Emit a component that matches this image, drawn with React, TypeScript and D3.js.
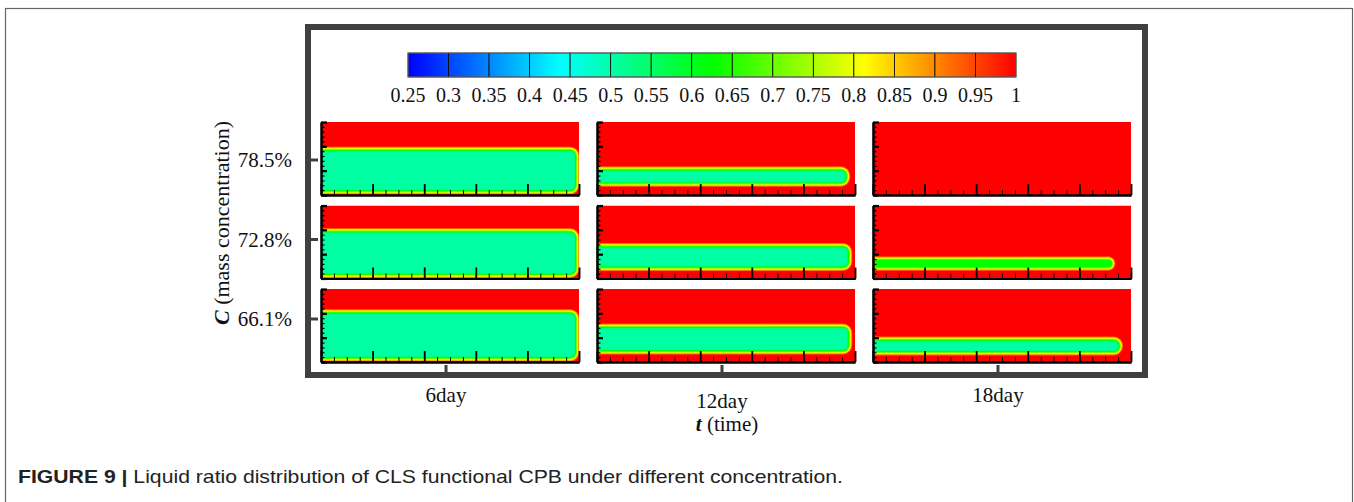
import React, { useRef, useEffect } from 'react';
import * as d3 from 'd3';

const days = ['6day', '12day', '18day'];
const concentrations = ['78.5%', '72.8%', '66.1%'];

const legendTicks = [0.25, 0.3, 0.35, 0.4, 0.45, 0.5, 0.55, 0.6, 0.65, 0.7, 0.75, 0.8, 0.85, 0.9, 0.95, 1];
const legendStops = [0.25, 0.4375, 0.625, 0.8125, 1];
const legendColors = ['#0000ff', '#00ffff', '#00ff00', '#ffff00', '#ff0000'];

// liquid zone in each panel (rows = concentration, cols = day), x in 0..5, y in 0..3
// null = fully saturated panel
const zoneTop = [
  [1.89, 1.08, null],
  [1.97, 1.36, 0.81],
  [2.07, 1.48, 0.95],
];
const zoneBottom = [
  [0.12, 0.44, null],
  [0.12, 0.41, 0.42],
  [0.12, 0.41, 0.37],
];
const zoneRight = [
  [4.96, 4.86, null],
  [4.96, 4.9, 4.65],
  [4.96, 4.9, 4.8],
];
const zoneCore = [
  [0.5, 0.5, null],
  [0.5, 0.5, 0.62],
  [0.5, 0.5, 0.5],
];

const serif = '"Liberation Serif", "Times New Roman", serif';
const sans = '"Liberation Sans", Arial, sans-serif';

const App: React.FC = () => {
  const svgRef = useRef<SVGSVGElement | null>(null);

  useEffect(() => {
    if (!svgRef.current) return;
    const svg = d3.select(svgRef.current);
    svg.selectAll('*').remove();

    const color = d3.scaleLinear<string>()
      .domain(legendStops)
      .range(legendColors)
      .interpolate(d3.interpolateRgb)
      .clamp(true);

    // caption box
    svg.append('rect')
      .attr('x', 5.5).attr('y', 8.5)
      .attr('width', 1347).attr('height', 530)
      .attr('fill', 'none')
      .attr('stroke', '#666')
      .attr('stroke-width', 1.2);

    const defs = svg.append('defs');

    // Legend
    const lx = d3.scaleLinear().domain([0.25, 1]).range([408, 1016]);
    const segs = d3.pairs(legendTicks);
    segs.forEach(([a, b], i) => {
      const grad = defs.append('linearGradient').attr('id', `seg${i}`);
      d3.range(0, 1.0001, 0.125).forEach(t => {
        grad.append('stop').attr('offset', t).attr('stop-color', color(a + (b - a) * t));
      });
    });

    const legend = svg.append('g');
    legend.selectAll('rect.seg')
      .data(segs)
      .join('rect')
      .attr('class', 'seg')
      .attr('x', d => lx(d[0]))
      .attr('y', 53)
      .attr('width', d => lx(d[1]) - lx(d[0]))
      .attr('height', 24)
      .attr('fill', (_, i) => `url(#seg${i})`)
      .attr('stroke', '#000')
      .attr('stroke-width', 0.8);
    legend.append('rect')
      .attr('x', lx(0.25)).attr('y', 53)
      .attr('width', lx(1) - lx(0.25)).attr('height', 24)
      .attr('fill', 'none').attr('stroke', '#777').attr('stroke-width', 1);
    legend.selectAll('text')
      .data(legendTicks)
      .join('text')
      .attr('x', d => lx(d))
      .attr('y', 102)
      .attr('text-anchor', 'middle')
      .style('font-family', serif)
      .style('font-size', '20px')
      .attr('fill', '#111')
      .text(d => d3.format('~g')(d));

    // panel grid
    const col = d3.scaleBand().domain(days).range([321, 1131]).paddingInner(0.065);
    const row = d3.scaleBand().domain(concentrations).range([122, 362]).paddingInner(0.126);
    const bw = col.bandwidth();
    const bh = row.bandwidth();
    const fx = d3.scaleLinear().domain([0, 5]).range([0, bw]);
    const fy = d3.scaleLinear().domain([0, 3]).range([bh, 0]);
    const half = 2.8; // half width of the contour transition, px

    concentrations.forEach((c, ri) => {
      days.forEach((d, ci) => {
        const g = svg.append('g').attr('transform', `translate(${col(d)},${row(c)})`);
        const clipId = `clip-${ri}-${ci}`;
        defs.append('clipPath').attr('id', clipId)
          .append('rect').attr('width', bw).attr('height', bh);

        const field = g.append('g').attr('clip-path', `url(#${clipId})`);
        field.append('rect').attr('width', bw).attr('height', bh).attr('fill', color(1));

        const top = zoneTop[ri][ci];
        if (top != null) {
          const x1 = fx(zoneRight[ri][ci] as number);
          const y0 = fy(top);
          const y1 = fy(zoneBottom[ri][ci] as number);
          const core = zoneCore[ri][ci] as number;
          const r0 = Math.min(7, (y1 - y0) / 2);
          const off = (v: number) => ((0.75 - v) / 0.25) * half;
          const levels = d3.range(0.985, core - 1e-6, -0.015)
            .filter(v => (y1 - off(v)) - (y0 + off(v)) > 0);
          field.selectAll('rect.lvl')
            .data(levels)
            .join('rect')
            .attr('class', 'lvl')
            .attr('x', -20)
            .attr('y', v => y0 + off(v))
            .attr('width', v => x1 - off(v) + 20)
            .attr('height', v => (y1 - off(v)) - (y0 + off(v)))
            .attr('rx', v => Math.max(0, r0 - off(v)))
            .attr('fill', v => color(v));
        }

        // axes
        const styleAxis = (sel: any, w: number) => {
          sel.selectAll('line').attr('stroke', '#000').attr('stroke-width', w);
          sel.select('.domain').attr('stroke', '#000').attr('stroke-width', 2);
        };
        g.append('g')
          .call(d3.axisLeft(fy).tickValues(d3.range(0, 3.001, 0.2)).tickSize(-3.5).tickSizeOuter(0).tickFormat(() => ''))
          .call((s: any) => styleAxis(s, 1.2));
        g.append('g')
          .call(d3.axisLeft(fy).tickValues([0, 1, 2, 3]).tickSize(-6).tickSizeOuter(0).tickFormat(() => ''))
          .call((s: any) => styleAxis(s, 2.2));
        g.append('g')
          .attr('transform', `translate(0,${bh})`)
          .call(d3.axisBottom(fx).tickValues(d3.range(0, 5.001, 0.25)).tickSize(-5).tickSizeOuter(0).tickFormat(() => ''))
          .call((s: any) => styleAxis(s, 1));
        g.append('g')
          .attr('transform', `translate(0,${bh})`)
          .call(d3.axisBottom(fx).tickValues([0, 1, 2, 3, 4, 5]).tickSize(-11).tickSizeOuter(0).tickFormat(() => ''))
          .call((s: any) => styleAxis(s, 1.8));
      });
    });

    // outer frame
    const frame = svg.append('g');
    frame.append('rect')
      .attr('x', 308).attr('y', 27)
      .attr('width', 837).attr('height', 348)
      .attr('fill', 'none')
      .attr('stroke', '#404040')
      .attr('stroke-width', 6);

    const ty = d3.scalePoint().domain(concentrations).range([160, 319]);
    frame.selectAll('line.ytick')
      .data(concentrations)
      .join('line')
      .attr('class', 'ytick')
      .attr('x1', 311).attr('x2', 318)
      .attr('y1', d => ty(d)!).attr('y2', d => ty(d)!)
      .attr('stroke', '#404040').attr('stroke-width', 3);
    frame.selectAll('line.xtick')
      .data(days)
      .join('line')
      .attr('class', 'xtick')
      .attr('x1', d => col(d)! + bw / 2 - 4).attr('x2', d => col(d)! + bw / 2 - 4)
      .attr('y1', 372).attr('y2', 365)
      .attr('stroke', '#404040').attr('stroke-width', 3);

    svg.selectAll('text.rowlab')
      .data(concentrations)
      .join('text')
      .attr('class', 'rowlab')
      .attr('x', 292)
      .attr('y', d => ty(d)! + 7)
      .attr('text-anchor', 'end')
      .style('font-family', serif)
      .style('font-size', '21px')
      .attr('fill', '#111')
      .text(d => d);

    svg.selectAll('text.collab')
      .data(days)
      .join('text')
      .attr('class', 'collab')
      .attr('x', d => col(d)! + bw / 2 - 4)
      .attr('y', (_, i) => (i === 1 ? 408 : 402))
      .attr('text-anchor', 'middle')
      .style('font-family', serif)
      .style('font-size', '21px')
      .attr('fill', '#111')
      .text(d => d);

    // axis titles
    const xt = svg.append('text')
      .attr('x', 727).attr('y', 431)
      .attr('text-anchor', 'middle')
      .style('font-family', serif)
      .style('font-size', '21px')
      .attr('fill', '#111');
    xt.append('tspan').style('font-weight', 'bold').style('font-style', 'italic').text('t');
    xt.append('tspan').text(' (time)');

    const yt = svg.append('text')
      .attr('transform', 'translate(229,223) rotate(-90)')
      .attr('text-anchor', 'middle')
      .style('font-family', serif)
      .style('font-size', '22px')
      .attr('fill', '#111');
    yt.append('tspan').style('font-weight', 'bold').style('font-style', 'italic').text('C');
    yt.append('tspan').text(' (mass concentration)');

    // caption
    const cap = svg.append('text')
      .attr('x', 18).attr('y', 483)
      .attr('textLength', 825)
      .attr('lengthAdjust', 'spacingAndGlyphs')
      .style('font-family', sans)
      .style('font-size', '19px')
      .attr('fill', '#222');
    cap.append('tspan').style('font-weight', 'bold').text('FIGURE 9 | ');
    cap.append('tspan').text('Liquid ratio distribution of CLS functional CPB under different concentration.');
  }, []);

  return (
    <svg
      ref={svgRef}
      width={1354}
      height={502}
      style={{ position: 'absolute', left: 0, top: 0, background: '#fff' }}
    />
  );
};

export default App;
